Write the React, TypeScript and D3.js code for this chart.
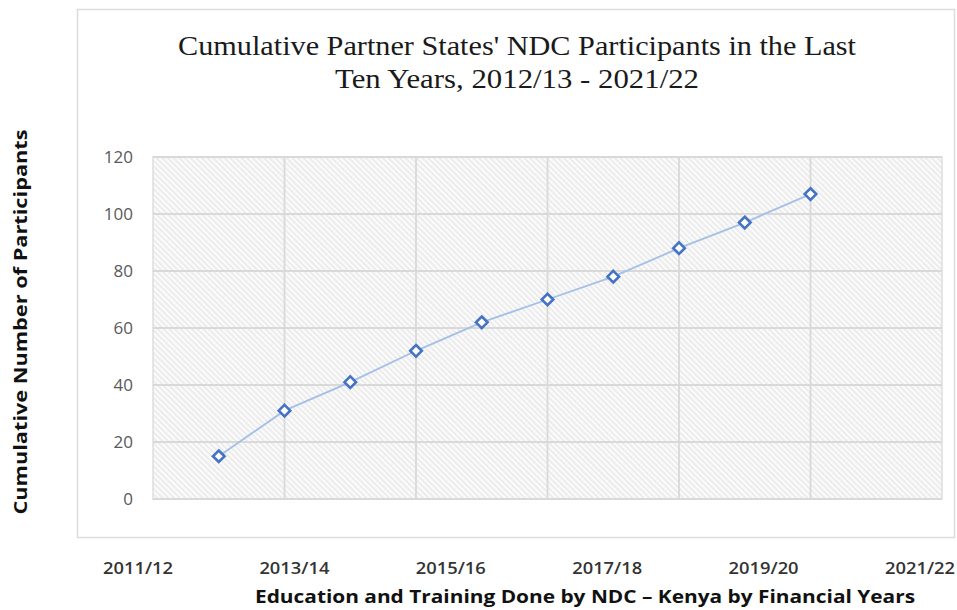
import React from "react";
import * as d3 from "d3";

const years = ["2012/13", "2013/14", "2014/15", "2015/16", "2016/17", "2017/18", "2018/19", "2019/20", "2020/21", "2021/22"];
const participants = [15, 31, 41, 52, 62, 70, 78, 88, 97, 107];
const xTickLabels = ["2011/12", "2013/14", "2015/16", "2017/18", "2019/20", "2021/22"];
const yTicks = [0, 20, 40, 60, 80, 100, 120];
const titleLines = ["Cumulative Partner States' NDC Participants in the Last", "Ten Years,  2012/13 - 2021/22"];
const xTitle = "Education and Training Done by NDC \u2013 Kenya by Financial Years";
const yTitle = "Cumulative Number of Participants";

export default function App() {
  const W = 957, H = 610;
  const plot = { left: 153, right: 942, top: 157, bottom: 499 };
  // slot index 0..12 (one slot per year, series occupies 1..10)
  const x = d3.scaleLinear().domain([0, 12]).range([plot.left, plot.right]);
  const y = d3.scaleLinear().domain([0, 120]).range([plot.bottom, plot.top]);
  const xLab = d3.scalePoint<string>().domain(xTickLabels).range([138, 920]);
  const pts = participants.map((v, i) => ({ yr: years[i], v, i: i + 1 }));
  const line = d3.line<{ v: number; i: number }>().x((d) => x(d.i)).y((d) => y(d.v));
  const vGrid = [2, 4, 6, 8, 10];
  const diamond = d3.symbol().type(d3.symbolDiamond2).size(85)();

  return (
    <svg width={W} height={H} style={{ position: "absolute", left: 0, top: 0, background: "#fff" }}>
      <defs>
        <pattern id="hatch" width="4" height="4" patternUnits="userSpaceOnUse" patternTransform="rotate(-45)">
          <rect width="4" height="4" fill="#ececec" />
          <line x1="1" y1="0" x2="1" y2="4" stroke="#ffffff" strokeWidth="1.6" />
        </pattern>
      </defs>
      <rect x={77.5} y={9.5} width={877} height={528} fill="#fff" stroke="#dcdcdc" strokeWidth={1.5} />
      {titleLines.map((t, i) => (
        <text key={i} x={517} y={55 + i * 33} textAnchor="middle" fontFamily="'Liberation Serif', serif" fontSize={28} fill="#1a1a1a"
          textLength={i === 0 ? 678 : 364} lengthAdjust="spacingAndGlyphs">{t}</text>
      ))}
      <rect x={plot.left} y={plot.top} width={plot.right - plot.left} height={plot.bottom - plot.top} fill="url(#hatch)" stroke="#dedede" strokeWidth={1.5} />
      {yTicks.map((t) => (
        <line key={"h" + t} x1={plot.left} x2={plot.right} y1={y(t)} y2={y(t)} stroke="#d9d9d9" strokeWidth={1.8} />
      ))}
      {vGrid.map((g) => (
        <line key={"v" + g} x1={x(g)} x2={x(g)} y1={plot.top} y2={plot.bottom} stroke="#d9d9d9" strokeWidth={1.8} />
      ))}
      {yTicks.map((t) => (
        <text key={"yl" + t} x={133} y={y(t)} dy="0.35em" textAnchor="end" fontFamily="'Open Sans', sans-serif" fontSize={17} fill="#595959">{t}</text>
      ))}
      <path d={line(pts) || ""} fill="none" stroke="#a4bfe8" strokeWidth={1.8} />
      {pts.map((d) => (
        <path key={d.yr} d={diamond || ""} transform={`translate(${x(d.i)},${y(d.v)})`} fill="#fff" stroke="#4472c4" strokeWidth={2.6} />
      ))}
      {xTickLabels.map((l) => (
        <text key={l} x={xLab(l)} y={574} textAnchor="middle" fontFamily="'Open Sans', sans-serif" fontWeight={600} fontSize={16} fill="#333"
          textLength={70} lengthAdjust="spacingAndGlyphs">{l}</text>
      ))}
      <text x={585} y={603} textAnchor="middle" fontFamily="'Open Sans', sans-serif" fontWeight={700} fontSize={18} fill="#111"
        textLength={660} lengthAdjust="spacingAndGlyphs">{xTitle}</text>
      <text transform="translate(27,322) rotate(-90)" textAnchor="middle" fontFamily="'Open Sans', sans-serif" fontWeight={700} fontSize={18} fill="#111"
        textLength={385} lengthAdjust="spacingAndGlyphs">{yTitle}</text>
    </svg>
  );
}
